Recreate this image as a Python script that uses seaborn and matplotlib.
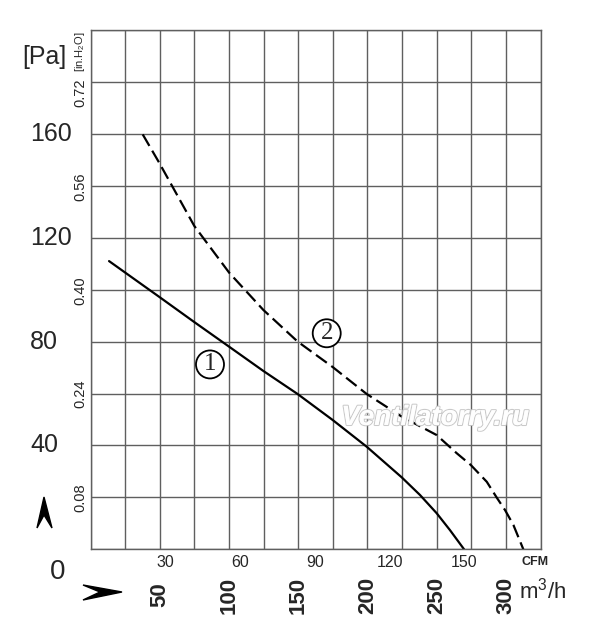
import numpy as np
import pandas as pd
import matplotlib
matplotlib.use('Agg')
import matplotlib.pyplot as plt
import matplotlib.transforms as mtransforms
import matplotlib.patheffects as pe
from matplotlib.patches import Polygon
import seaborn as sns

# fan curves, flow in m3/h, static pressure in Pa
flow_1 = [13.4, 49.7, 75.0, 100.2, 124.8, 149.6, 174.9, 199.5, 224.8, 238.0,
          250.0, 259.6, 269.8]
pres_1 = [111.0, 97.2, 87.5, 78.0, 68.7, 59.8, 49.8, 39.5, 27.7, 20.9,
          13.9, 7.4, 0]
flow_2 = [37.7, 49.7, 75.0, 100.2, 124.8, 149.6, 174.9, 199.5, 224.8, 250.0,
          264.5, 274.6, 286.2, 293.4, 299.4, 305.4, 312.6]
pres_2 = [159.8, 148.8, 124.5, 106.5, 92.2, 80.0, 70.2, 59.8, 51.1, 44.0,
          37.0, 32.5, 26.0, 19.9, 15.1, 9.4, 0]

pa_ticks = [160, 120, 80, 40]
inh2o_ticks = [0.72, 0.56, 0.40, 0.24, 0.08]
cfm_ticks = [30, 60, 90, 120, 150]
m3h_ticks = [50, 100, 150, 200, 250, 300]
curve_labels = ['1', '2']
label_pos = [(86.3, 71.2), (170.6, 83.2)]

PA_PER_INH2O = 249.1
M3H_PER_CFM = 1.8   # scale used on the drawing

df = pd.concat([
    pd.DataFrame({'flow': flow_1, 'pa': pres_1, 'curve': '1'}),
    pd.DataFrame({'flow': flow_2, 'pa': pres_2, 'curve': '2'}),
])

sns.set_style('white')
plt.rcParams['font.family'] = ['Liberation Sans', 'DejaVu Sans']
plt.rcParams['mathtext.default'] = 'regular'

fig = plt.figure(figsize=(6, 6.41), dpi=100)
ax = fig.add_axes([90.5 / 600, 1 - 549.3 / 641, 450 / 600, 519.3 / 641])

sns.lineplot(data=df, x='flow', y='pa', style='curve', color='black',
             dashes={'1': '', '2': (6, 2.5)}, linewidth=1.6, legend=False,
             sort=False, ax=ax)

ax.set_xlim(0, 325)
ax.set_ylim(0, 200)
ax.set_xticks(np.arange(0, 326, 25), minor=True)
ax.set_yticks(np.arange(0, 201, 20), minor=True)
ax.set_yticks([])
ax.set_xticks([c * M3H_PER_CFM for c in cfm_ticks], [str(c) for c in cfm_ticks])
ax.tick_params(axis='x', which='major', direction='in', length=5, width=1,
               color='#555555', pad=4, labelsize=11.5)
ax.tick_params(which='minor', length=0)
ax.grid(which='minor', color='#5f5f5f', linewidth=1.0)
ax.grid(which='major', visible=False)
for s in ax.spines.values():
    s.set_color('#5f5f5f')
    s.set_linewidth(1.0)
ax.set_xlabel('')
ax.set_ylabel('')

ytr = mtransforms.blended_transform_factory(ax.transAxes, ax.transData)
xtr = mtransforms.blended_transform_factory(ax.transData, ax.transAxes)

for v in pa_ticks:
    ax.text(-0.134, v, str(v), transform=ytr, ha='left', va='center',
            fontsize=18, clip_on=False)
ax.annotate('0', xy=(-0.074, 0), xycoords=ytr, xytext=(0, -7),
            textcoords='offset points', ha='center', va='top', fontsize=20)

for v in inh2o_ticks:
    yv = v * PA_PER_INH2O
    if v == 0.72:
        yv -= 3.5
    ax.text(-0.023, yv, f'{v:.2f}', transform=ytr, ha='center', va='center',
            rotation=90, fontsize=10.5, clip_on=False)

for v in m3h_ticks:
    ax.text(v, -0.088, str(v), transform=xtr, ha='center', va='center',
            rotation=90, fontsize=16, fontweight='bold', clip_on=False)

ax.text(321, -0.024, 'CFM', transform=xtr, ha='center', va='center',
        fontsize=9, fontweight='bold', clip_on=False)
fig.text(543 / 600, 1 - 591 / 641, 'm$^3$/h', ha='center', va='center', fontsize=16)
fig.text(44 / 600, 1 - 57 / 641, '[Pa]', ha='center', va='center', fontsize=18)
fig.text(80 / 600, 1 - 52 / 641, '[in.H$_2$O]', ha='center', va='center',
         rotation=90, fontsize=8)

for lab, (x, y) in zip(curve_labels, label_pos):
    ax.text(x, y, lab, ha='center', va='center', fontsize=18,
            family='Liberation Serif',
            bbox=dict(boxstyle='circle,pad=0.12', fc='white', ec='black', lw=1.3))

wm = ax.text(248.9, 50.6, 'Ventilatorry.ru', ha='center', va='center', fontsize=20,
             style='italic', fontweight='bold', family='Liberation Sans',
             color='white', alpha=0.9)
wm.set_path_effects([pe.withStroke(linewidth=1.6, foreground='#c4c4c4'), pe.Normal()])


def px(x, y):
    return (x / 600, 1 - y / 641)


up = Polygon([px(44, 497), px(52, 528), px(44, 515), px(37, 528)],
             closed=True, color='black', transform=fig.transFigure)
right = Polygon([px(122, 592), px(83, 600), px(100, 592), px(83, 585)],
                closed=True, color='black', transform=fig.transFigure)
fig.patches.extend([up, right])

fig.savefig('out.png', dpi=100)
